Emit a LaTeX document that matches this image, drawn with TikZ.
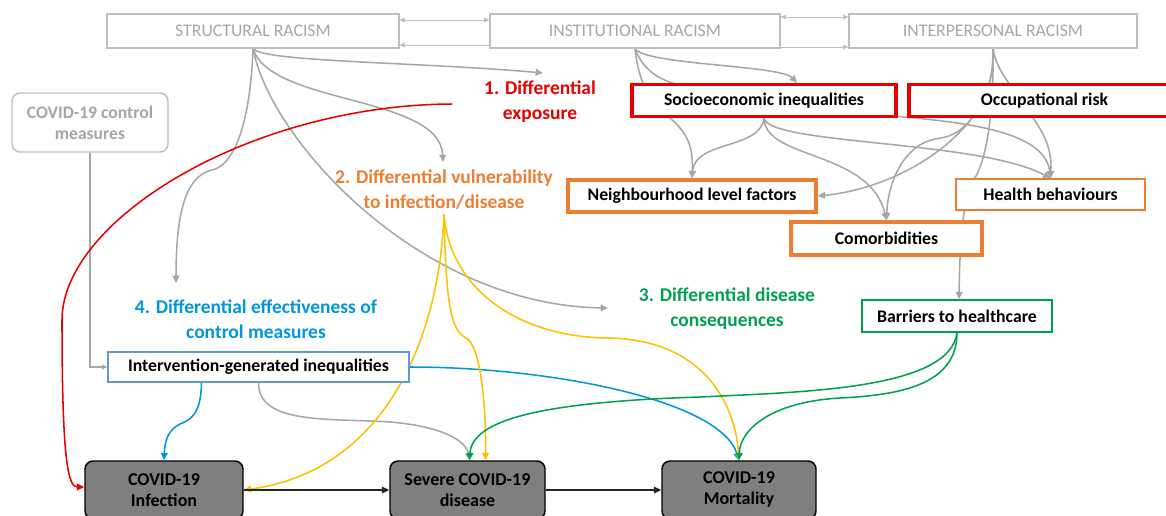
\documentclass[tikz,border=0pt]{standalone}
\usepackage{fontspec}
\setmainfont{Carlito}
\usetikzlibrary{arrows.meta, calc, backgrounds}

\definecolor{lgray}{HTML}{A6A6A6}
\definecolor{bgray}{HTML}{BFBFBF}
\definecolor{cred}{HTML}{E60000}
\definecolor{corange}{HTML}{ED7D31}
\definecolor{cgreen}{HTML}{00A050}
\definecolor{cblue}{HTML}{0096DC}
\definecolor{boxblue}{HTML}{5B9BD5}
\definecolor{cyellow}{HTML}{FFC000}
\definecolor{dgray}{HTML}{7F7F7F}

\begin{document}
\begin{tikzpicture}[x=0.75pt, y=-0.75pt,
    every node/.style={font=\fontsize{13.3}{15}\selectfont},
    racism/.style={draw=bgray, line width=0.8pt, fill=white, text=lgray, minimum height=25.5pt, inner sep=0pt},
    ctrlbox/.style={draw=bgray, line width=1.1pt, fill=white, rounded corners=6pt, text=lgray, align=center,
        font=\fontsize{13.2}{15.75}\selectfont\bfseries, minimum width=117pt, minimum height=44.25pt, inner sep=0pt},
    factor/.style={draw, fill=white, font=\fontsize{13.3}{15}\selectfont\bfseries, minimum height=24pt, inner sep=0pt},
    outcome/.style={draw=black, line width=1.1pt, fill=dgray, rounded corners=6pt, align=center,
        font=\fontsize{13.5}{15.75}\selectfont\bfseries, minimum height=43.5pt, inner sep=0pt},
    mech/.style={font=\fontsize{14.6}{18.75}\selectfont\bfseries, align=center},
    link/.style={-{Triangle[length=5.5pt,width=5pt]}, line width=1.15pt},
    thinlink/.style={bgray, line width=0.6pt},
    smtip/.tip={Triangle[length=4pt,width=3.5pt]}
  ]
  \useasboundingbox (0,0) rectangle (1166,515);

  % Nodes
  \node[racism, minimum width=219pt] (str) at (253,31) {STRUCTURAL RACISM};
  \node[racism, minimum width=217.5pt] (inst) at (635,31) {INSTITUTIONAL RACISM};
  \node[racism, minimum width=216pt] (inter) at (993,31) {INTERPERSONAL RACISM};
  \node[ctrlbox] (ctrl) at (90,122.5) {COVID-19 control\\measures};

  \node[factor, draw=cred, line width=2.6pt, minimum width=198pt] (socio) at (764,100.5) {Socioeconomic inequalities};
  \node[factor, draw=cred, line width=2.6pt, minimum width=203.25pt] (occ) at (1044.5,100.5) {Occupational risk};
  \node[factor, draw=corange, line width=2.6pt, minimum width=186pt] (nbh) at (692,196) {Neighbourhood level factors};
  \node[factor, draw=corange, line width=0.9pt, minimum width=141.75pt, minimum height=23.25pt] (hb) at (1050.5,194.5) {Health behaviours};
  \node[factor, draw=corange, line width=2.6pt, minimum width=143.25pt, minimum height=24.75pt] (comor) at (886.5,238.5) {Comorbidities};
  \node[factor, draw=cgreen, line width=1pt, minimum width=142.5pt] (barr) at (957,316) {Barriers to healthcare};
  \node[factor, draw=boxblue, line width=1pt, minimum width=225.75pt, minimum height=22.5pt] (interv) at (258.5,367) {Intervention-generated inequalities};

  \node[outcome, minimum width=118.5pt] (inf) at (164,490) {COVID-19\\Infection};
  \node[outcome, minimum width=116.25pt] (sev) at (467.5,490) {Severe COVID-19\\disease};
  \node[outcome, minimum width=115.5pt] (mort) at (739,490) {COVID-19\\Mortality};

  % Mechanisms
  \node[mech, text=cred] (lab1) at (540,102) {1. Differential\\exposure};
  \node[mech, text=corange] (lab2) at (444,190) {2. Differential vulnerability\\to infection/disease};
  \node[mech, text=cgreen] (lab3) at (727,309) {3. Differential disease\\consequences};
  \node[mech, text=cblue] (lab4) at (256,319) {4. Differential effectiveness of\\control measures};

  \coordinate (e1) at (543,73);
  \coordinate (e2) at (443,162);
  \coordinate (e3) at (608,308);
  \coordinate (e4) at (176,283);
  \coordinate (r0) at (452,104);

  % Edges
  \begin{scope}[on background layer]
    \draw[thinlink, smtip-smtip] ($(str.east)+(0,-11)$) -- ($(inst.west)+(0,-11)$);
    \draw[thinlink, smtip-] ($(str.east)+(0,14)$) -- ($(inst.west)+(0,14)$);
    \draw[thinlink, smtip-smtip] ($(inst.east)+(0,-14)$) -- ($(inter.west)+(0,-14)$);
    \draw[thinlink, -smtip] ($(inst.east)+(0,16)$) -- ($(inter.west)+(0,16)$);

    % structural racism
    \draw[link, lgray] (str.south) .. controls (262,62) and (420,62) .. (e1);
    \draw[link, lgray] (str.south) .. controls (270,105) and (440,95) .. (e2);
    \draw[link, lgray] (str.south) .. controls (250,130) and (232,166) .. (212,170) .. controls (185,176) and (176,215) .. (e4);
    \draw[link, lgray] (str.south) .. controls (270,140) and (420,305) .. (e3);

    % institutional racism
    \draw[link, lgray] (inst.south) .. controls (645,65) and (780,65) .. ($(socio.north)+(33,0)$);
    \draw[link, lgray] (inst.south) .. controls (638,80) and (650,105) .. (670,118) .. controls (690,135) and (693,150) .. (nbh.north);
    \draw[link, lgray] (inst.south) .. controls (645,75) and (665,82) .. (690,88) -- (893,116) .. controls (960,122) and (1045,130) .. (hb.north);

    % interpersonal racism
    \draw[link, lgray] (inter.south) .. controls (994,120) and (985,160) .. (976,176) .. controls (966,190) and (960,220) .. ($(barr.north)+(2,0)$);
    \draw[link, lgray] (inter.south) .. controls (994,80) and (985,100) .. (972,118) .. controls (940,160) and (880,190) .. (nbh.east);
    \draw[link, lgray] (inter.south) .. controls (994,80) and (985,100) .. (972,118) .. controls (960,133) and (950,137) .. (935,139) .. controls (905,145) and (888,180) .. (comor.north);
    \draw[link, lgray] (inter.south) .. controls (996,75) and (1025,100) .. (1033,118) .. controls (1045,135) and (1052,150) .. (hb.north);

    % socioeconomic inequalities
    \draw[link, lgray] (socio.south) .. controls (760,150) and (695,140) .. (nbh.north);
    \draw[link, lgray] (socio.south) .. controls (765,160) and (870,150) .. (comor.north);
    \draw[link, lgray] (socio.south) .. controls (770,145) and (980,140) .. (hb.north);

    % control measures
    \draw[thinlink, lgray, line width=0.8pt, -smtip] (ctrl.south) |- (interv.west);
    \draw[link, cblue] ($(interv.south)+(-57,0)$) .. controls (201,415) and (190,420) .. (180,424) .. controls (168,430) and (165,440) .. (inf.north);
    \draw[link, cblue] (interv.east) .. controls (550,367) and (720,400) .. (mort.north);
    \draw[link, lgray] (interv.south) .. controls (258,425) and (330,418) .. (390,422) .. controls (440,426) and (466,440) .. ($(sev.north)+(2,0)$);

    % vulnerability
    \draw[link, cyellow] (lab2.south) .. controls (440,330) and (390,470) .. (inf.east);
    \draw[link, cyellow] (lab2.south) .. controls (446,300) and (450,330) .. (466,338) .. controls (480,345) and (486,400) .. ($(sev.north)+(18,0)$);
    \draw[link, cyellow] (lab2.south) .. controls (450,290) and (520,338) .. (610,338) .. controls (700,340) and (735,400) .. (mort.north);

    % barriers to healthcare
    \draw[link, cgreen] (barr.south) .. controls (950,390) and (800,392) .. (700,397) .. controls (540,402) and (472,420) .. ($(sev.north)+(2,0)$);
    \draw[link, cgreen] (barr.south) .. controls (957,385) and (900,395) .. (840,398) .. controls (770,402) and (740,430) .. (mort.north);

    % exposure
    \draw[link, cred] (r0) .. controls (250,105) and (62,220) .. (62,320) .. controls (62,460) and (68,487) .. ($(inf.west)+(0,-3)$);

    % outcomes
    \draw[link, black!85, line width=0.8pt] (inf.east) -- (sev.west);
    \draw[link, black!85, line width=0.8pt] (sev.east) -- (mort.west);
  \end{scope}
\end{tikzpicture}
\end{document}
